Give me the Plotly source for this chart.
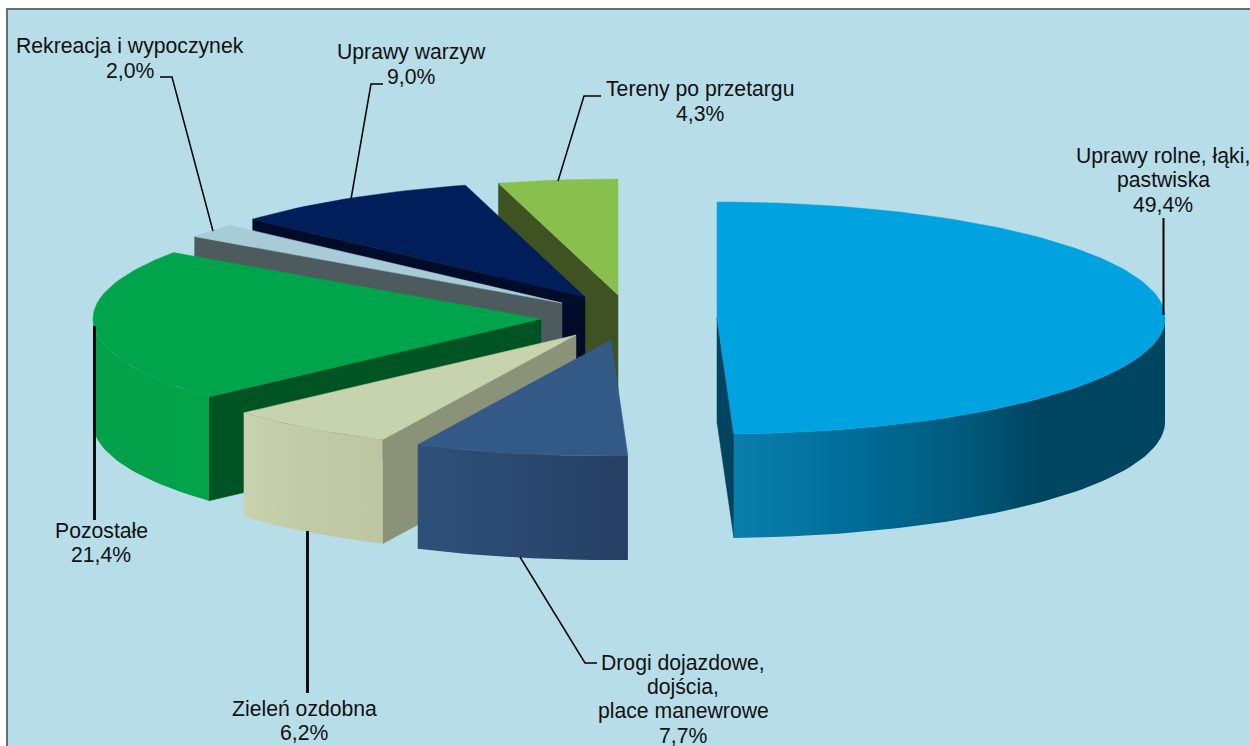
import math
import plotly.graph_objects as go

# ---- data ----
categories = [["Uprawy rolne, łąki,", "pastwiska"], ["Drogi dojazdowe,", "dojścia,", "place manewrowe"],
              ["Zieleń ozdobna"], ["Pozostałe"], ["Rekreacja i wypoczynek"], ["Uprawy warzyw"], ["Tereny po przetargu"]]
shares = [49.4, 7.7, 6.2, 21.4, 2.0, 9.0, 4.3]
share_labels = ["49,4%", "7,7%", "6,2%", "21,4%", "2,0%", "9,0%", "4,3%"]

# ---- styling / layout ----
W, H = 1250, 746
RX, RY, DEPTH = 448, 116, 104
apex = [(717, 318), (611, 340), (576, 335), (541, 319), (562, 303), (585, 297), (618, 295)]
top_col = ["#00A3E0", "#335987", "#C7D2AE", "#00A44A", "#A8CCD7", "#001E5A", "#89C04D"]
cut_col = ["#004560", "#2E5078", "#8A9278", "#005323", "#4D5B5F", "#000C2A", "#3F5222"]
wall_scale = [
    [[0, "#0A7EAC"], [0.3, "#006C97"], [0.55, "#00587A"], [0.7, "#004660"], [1, "#00455F"]],
    [[0, "#2E5078"], [0.5, "#2A4870"], [1, "#263F63"]],
    [[0, "#C8D2AF"], [0.5, "#C0CAA7"], [1, "#BCC6A2"]],
    [[0, "#03A14A"], [1, "#03A34A"]],
    [[0, "#4D5B5F"], [1, "#4D5B5F"]],
    [[0, "#000C2A"], [1, "#000C2A"]],
    [[0, "#3F5222"], [1, "#3F5222"]],
]
draw_order = [6, 5, 4, 3, 2, 1, 0]
first_line = [(1163, 156), (683, 662.5), (304, 708), (101, 530), (130, 46), (411, 52), (700, 89)]
LINE_STEP = 24.4
leaders = [
    ([1163.5, 1163.5], [218, 315], 2),
    ([520, 585, 597], [557, 663, 663], 1.5),
    ([307.5, 307.5], [531, 693], 2.8),
    ([94.5, 94.5], [326, 520], 2.8),
    ([160, 172, 213], [77, 77, 231], 1.5),
    ([383, 371, 351], [84, 84, 199], 1.5),
    ([601, 584, 558], [96, 96, 181], 1.5),
]
FONT = dict(family="Liberation Sans, Arial, sans-serif", size=21.2, color="#111111")

fig = go.Figure()


def rim(c, deg):
    t = math.radians(deg)
    return c[0] + RX * math.sin(t), c[1] - RY * math.cos(t)


def poly(xs, ys, color=None, scale=None):
    kw = dict(x=xs + xs[:1], y=ys + ys[:1], mode="lines", fill="toself", hoverinfo="skip",
              showlegend=False)
    if scale:
        kw["fillgradient"] = dict(type="horizontal", colorscale=scale)
        kw["line"] = dict(width=0)
    else:
        kw["fillcolor"] = color
        kw["line"] = dict(width=0.5, color=color)
    fig.add_trace(go.Scatter(**kw))


# cumulative angles clockwise from north
bounds = [0.0]
for s in shares:
    bounds.append(bounds[-1] + s / sum(shares) * 360)

for i in draw_order:
    a0, a1 = bounds[i], bounds[i + 1]
    c = apex[i]
    n = max(int((a1 - a0) / 1.5), 2)
    angs = [a0 + (a1 - a0) * k / n for k in range(n + 1)]
    # cut faces: visible when the slice interior lies above the edge on screen
    mid = rim(c, (a0 + a1) / 2)
    mx, my = c[0] + (mid[0] - c[0]) * 0.5, c[1] + (mid[1] - c[1]) * 0.5
    for a in (a0, a1):
        r = rim(c, a)
        dx = r[0] - c[0]
        if abs(dx) < 1:
            continue
        line_y = c[1] + (r[1] - c[1]) * (mx - c[0]) / dx
        if my < line_y:
            poly([c[0], r[0], r[0], c[0]], [c[1], r[1], r[1] + DEPTH, c[1] + DEPTH], cut_col[i])
    # outer wall: front half of the rim only
    front = [a for a in angs if 90 <= a <= 270]
    if a0 < 90 < a1:
        front = [90.0] + front
    if a0 < 270 < a1:
        front = front + [270.0]
    if len(front) > 1:
        pts = [rim(c, a) for a in front]
        xs = [p[0] for p in pts] + [p[0] for p in reversed(pts)]
        ys = [p[1] for p in pts] + [p[1] + DEPTH for p in reversed(pts)]
        poly(xs, ys, scale=wall_scale[i])
    # top face
    pts = [rim(c, a) for a in angs]
    poly([c[0]] + [p[0] for p in pts], [c[1]] + [p[1] for p in pts], top_col[i])

for xs, ys, w in leaders:
    fig.add_trace(go.Scatter(x=xs, y=ys, mode="lines", line=dict(color="#000000", width=w),
                             hoverinfo="skip", showlegend=False))

for cat, lab, (x, y) in zip(categories, share_labels, first_line):
    for k, txt in enumerate(cat + [lab]):
        fig.add_annotation(x=x, y=y + k * LINE_STEP, xref="x", yref="y", text=txt, showarrow=False,
                           xanchor="center", yanchor="middle", align="center", font=FONT)

fig.add_shape(type="rect", x0=7, y0=9, x1=W + 5, y1=H + 5, layer="below",
              fillcolor="#B7DDE8", line=dict(color="#5F7376", width=2))

fig.update_layout(
    width=W, height=H, margin=dict(l=0, r=0, t=0, b=0), paper_bgcolor="#FFFFFF",
    plot_bgcolor="rgba(0,0,0,0)", showlegend=False,
    xaxis=dict(range=[0, W], visible=False, fixedrange=True),
    yaxis=dict(range=[H, 0], visible=False, fixedrange=True),
)
fig.write_html("out.html", config=dict(displayModeBar=False),
               post_script="document.body.style.margin='0';document.body.style.overflow='hidden';")
